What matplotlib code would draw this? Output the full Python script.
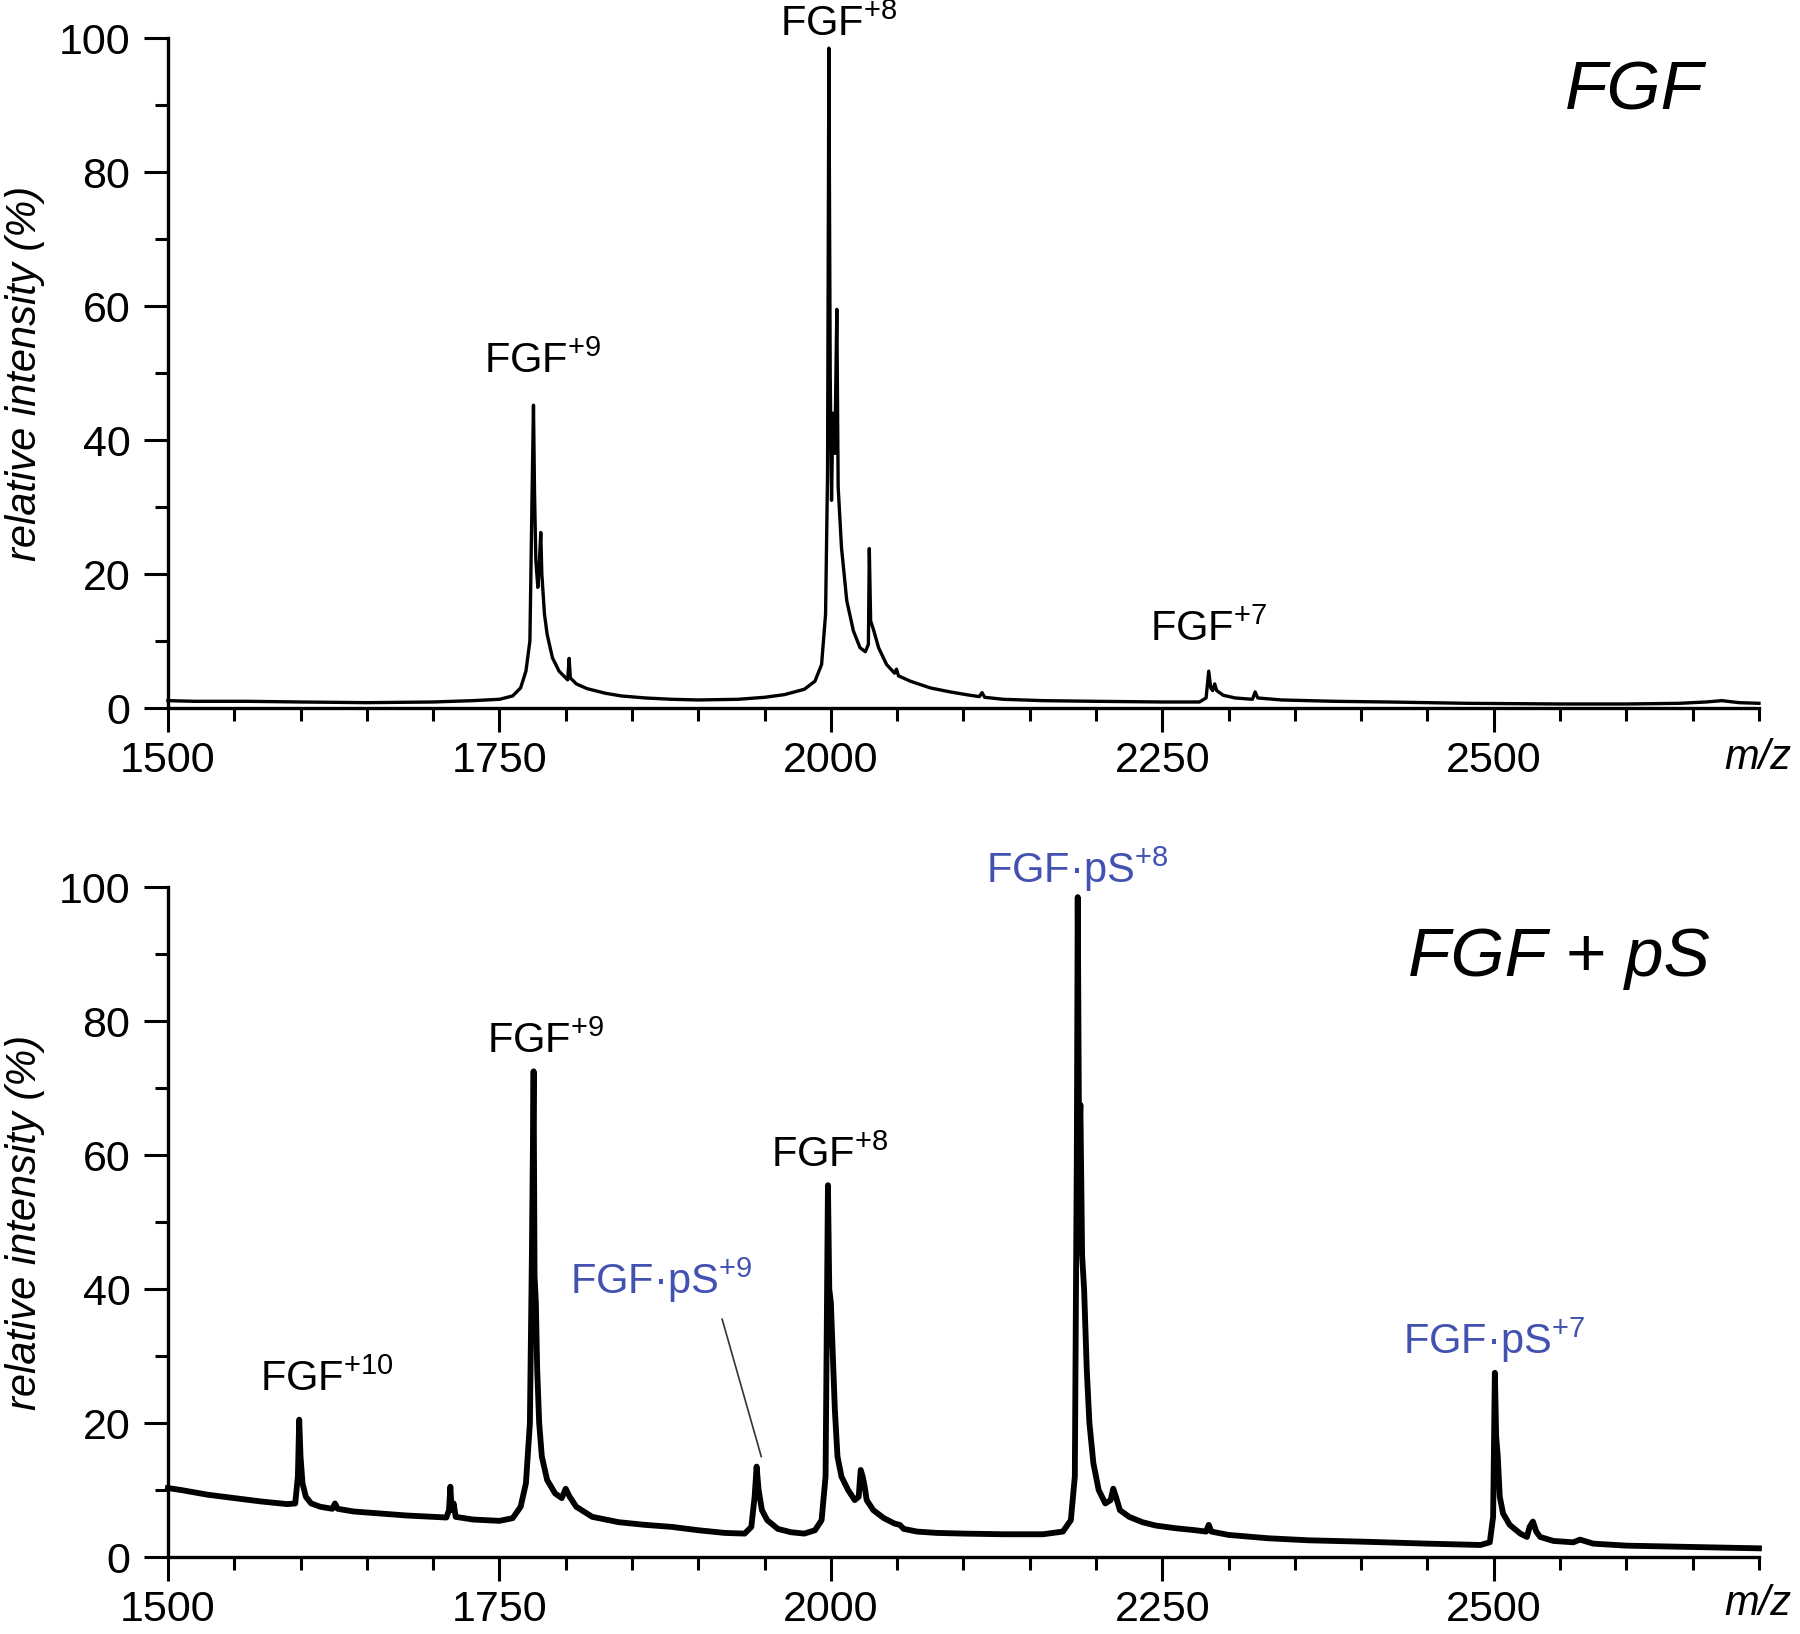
import numpy as np
import matplotlib
matplotlib.use("Agg")
import matplotlib.pyplot as plt
from matplotlib.ticker import MultipleLocator

plt.rcParams['font.family'] = ['Liberation Sans', 'DejaVu Sans']
plt.rcParams['mathtext.fontset'] = 'custom'
plt.rcParams['mathtext.rm'] = 'Liberation Sans'
plt.rcParams['mathtext.it'] = 'Liberation Sans:italic'

# spektrum FGF (oben)
mz_top = [1500, 1520, 1560, 1600, 1650, 1700, 1730, 1750, 1760, 1766, 1770, 1773,
          1774.5, 1775.7, 1776.5, 1777.5, 1779, 1780, 1781.2, 1782, 1784, 1786,
          1790, 1795, 1801.5, 1802.6, 1803.5, 1808, 1816, 1830, 1842, 1860, 1880,
          1900, 1930, 1950, 1965, 1980, 1988, 1993, 1996, 1997.5, 1998.5, 1999.5,
          2000.5, 2001.5, 2003, 2004.5, 2005.5, 2008, 2012, 2017, 2022, 2026,
          2028.3, 2029, 2030, 2032, 2036, 2042, 2048, 2049.5, 2051, 2060, 2075,
          2090, 2105, 2112, 2114, 2116, 2130, 2160, 2200, 2250, 2278, 2283,
          2285, 2286.5, 2288, 2289.5, 2291, 2296, 2305, 2318, 2320, 2322, 2340,
          2380, 2420, 2480, 2550, 2600, 2640, 2660, 2672, 2685, 2700]
int_top = [1.1, 1.0, 1.0, 0.9, 0.8, 0.9, 1.1, 1.3, 1.8, 3.0, 5.5, 10,
           30, 45.2, 32, 22, 18, 21, 26.2, 20, 14, 11,
           7.5, 5.5, 4.2, 7.4, 4.5, 3.6, 2.9, 2.2, 1.8, 1.5, 1.3,
           1.2, 1.3, 1.6, 2.0, 2.8, 4.0, 6.5, 14, 35, 98.5, 50,
           31, 44, 38, 59.5, 33, 24, 16, 11.5, 9.0, 8.4,
           9.5, 23.8, 13, 11.8, 9, 6.5, 5.2, 5.8, 4.8, 4.0, 3.0,
           2.4, 1.9, 1.7, 2.3, 1.6, 1.3, 1.1, 1.0, 0.9, 0.9, 1.5,
           5.5, 3.0, 2.6, 3.6, 2.6, 1.9, 1.5, 1.3, 2.4, 1.5, 1.2,
           1.0, 0.9, 0.7, 0.6, 0.6, 0.7, 0.9, 1.1, 0.8, 0.7]

# spektrum FGF + pS (unten)
mz_bot = [1500, 1510, 1530, 1550, 1570, 1590, 1596, 1598, 1599, 1600, 1601.5, 1604,
          1608, 1615, 1624, 1626, 1628, 1640, 1660, 1680, 1700, 1710, 1712, 1713,
          1714, 1715.5, 1717, 1730, 1750, 1760, 1766, 1770, 1773, 1774.5, 1775.8,
          1776.5, 1777.5, 1778.5, 1780, 1782, 1786, 1792, 1797, 1800, 1803, 1808,
          1820, 1840, 1860, 1880, 1900, 1920, 1935, 1940, 1942.5, 1944, 1945.5,
          1948, 1952, 1960, 1970, 1980, 1988, 1993, 1996, 1997.8, 1998.8, 2000,
          2001.5, 2003, 2005, 2008, 2013, 2018, 2021, 2022.5, 2024, 2025.5, 2027,
          2032, 2040, 2048, 2052, 2055, 2065, 2080, 2100, 2130, 2160, 2175, 2181,
          2184, 2185.5, 2186.2, 2187.2, 2188.2, 2189.5, 2191, 2193, 2195, 2198,
          2202, 2207, 2211, 2213, 2215, 2218, 2225, 2235, 2245, 2260, 2275, 2283,
          2285, 2287, 2300, 2330, 2360, 2400, 2450, 2490, 2497, 2499.5, 2500.8,
          2501.8, 2503, 2504.5, 2507, 2512, 2520, 2525, 2527, 2529.5, 2532, 2535,
          2545, 2560, 2565, 2575, 2600, 2650, 2700]
int_bot = [10.3, 10.0, 9.3, 8.8, 8.3, 7.9, 8.0, 12, 20.5, 15, 11, 9,
           8, 7.5, 7.2, 8, 7.2, 6.8, 6.5, 6.2, 6.0, 5.9, 7, 10.5,
           7, 8, 6, 5.6, 5.4, 5.8, 7.5, 11, 20, 45, 72.5,
           42, 38, 28, 20, 15, 11.5, 9.5, 8.8, 10.2, 9.0, 7.5,
           6.0, 5.2, 4.8, 4.5, 4.0, 3.6, 3.5, 4.5, 9, 13.5, 10,
           7, 5.5, 4.2, 3.7, 3.5, 4.0, 5.5, 12, 55.5, 40, 38,
           30, 22, 15, 12, 10, 8.5, 9, 13, 12, 10.5, 8.5,
           7, 5.8, 5.0, 4.8, 4.2, 3.8, 3.6, 3.5, 3.4, 3.4, 3.8, 5.5,
           12, 60, 98.5, 62, 67.5, 45, 40, 28, 20, 14,
           10, 8, 8.5, 10.2, 9, 7, 6, 5.2, 4.7, 4.3, 4.0, 3.8,
           4.8, 3.8, 3.3, 2.8, 2.5, 2.3, 2.0, 1.8, 2.2, 6, 27.5,
           18, 15, 9, 6.5, 4.8, 3.5, 3.0, 4.5, 5.3, 3.8, 3.0,
           2.4, 2.2, 2.6, 2.0, 1.7, 1.5, 1.3]

# beschriftungen: (text, m/z, y, farbe)
blau = '#4352b0'
labels_top = [('FGF$^{+9}$', 1783, 50, 'black'),
              ('FGF$^{+8}$', 2006, 100.3, 'black'),
              ('FGF$^{+7}$', 2285, 10, 'black')]
labels_bot = [('FGF$^{+10}$', 1620, 24.8, 'black'),
              ('FGF$^{+9}$', 1785, 75.3, 'black'),
              ('FGF$^{+8}$', 1999, 58.2, 'black'),
              ('FGF·pS$^{+9}$', 1872, 39.3, blau),
              ('FGF·pS$^{+8}$', 2186, 100.6, blau),
              ('FGF·pS$^{+7}$', 2500, 30.3, blau)]

fig = plt.figure(figsize=(18, 16.34), dpi=100)
ax1 = fig.add_axes([0.0933, 0.5667, 0.8839, 0.41])
ax2 = fig.add_axes([0.0933, 0.0471, 0.8839, 0.41])

def style_axes(ax):
    ax.set_xlim(1500, 2700)
    ax.set_ylim(0, 100)
    for s in ['top', 'right']:
        ax.spines[s].set_visible(False)
    for s in ['left', 'bottom']:
        ax.spines[s].set_linewidth(2.4)
    ax.xaxis.set_major_locator(MultipleLocator(250))
    ax.xaxis.set_minor_locator(MultipleLocator(50))
    ax.yaxis.set_major_locator(MultipleLocator(20))
    ax.yaxis.set_minor_locator(MultipleLocator(10))
    ax.tick_params(which='major', direction='out', length=17, width=2.2,
                   labelsize=31, pad=7)
    ax.tick_params(axis='y', which='major', pad=10)
    ax.tick_params(which='minor', direction='out', length=9.5, width=2.2)
    ax.set_xticks([1500, 1750, 2000, 2250, 2500])
    ax.set_ylabel('relative intensity (%)', fontsize=30, style='italic')
    ax.yaxis.set_label_coords(-0.077, 0.5)

style_axes(ax1)
style_axes(ax2)

ax1.plot(mz_top, int_top, color='black', lw=2.4, clip_on=False)
ax2.plot(mz_bot, int_bot, color='black', lw=4.2, clip_on=False)

for txt, x, y, c in labels_top:
    ax1.text(x, y, txt, ha='center', va='baseline', fontsize=30, color=c)
for txt, x, y, c in labels_bot:
    ax2.text(x, y, txt, ha='center', va='baseline', fontsize=30, color=c)

# hinweislinie zu FGF.pS+9
ax2.plot([1918, 1947.5], [35.5, 15], color='#333333', lw=1.2)

ax1.text(2606, 89.4, 'FGF', ha='center', va='baseline', fontsize=50, style='italic')
ax2.text(2549, 86.8, 'FGF + pS', ha='center', va='baseline', fontsize=50, style='italic')

fig.text(0.995, 0.536, 'm/z', ha='right', va='center', fontsize=30, style='italic')
fig.text(0.995, 0.0184, 'm/z', ha='right', va='center', fontsize=30, style='italic')

fig.savefig('out.png', dpi=100)
